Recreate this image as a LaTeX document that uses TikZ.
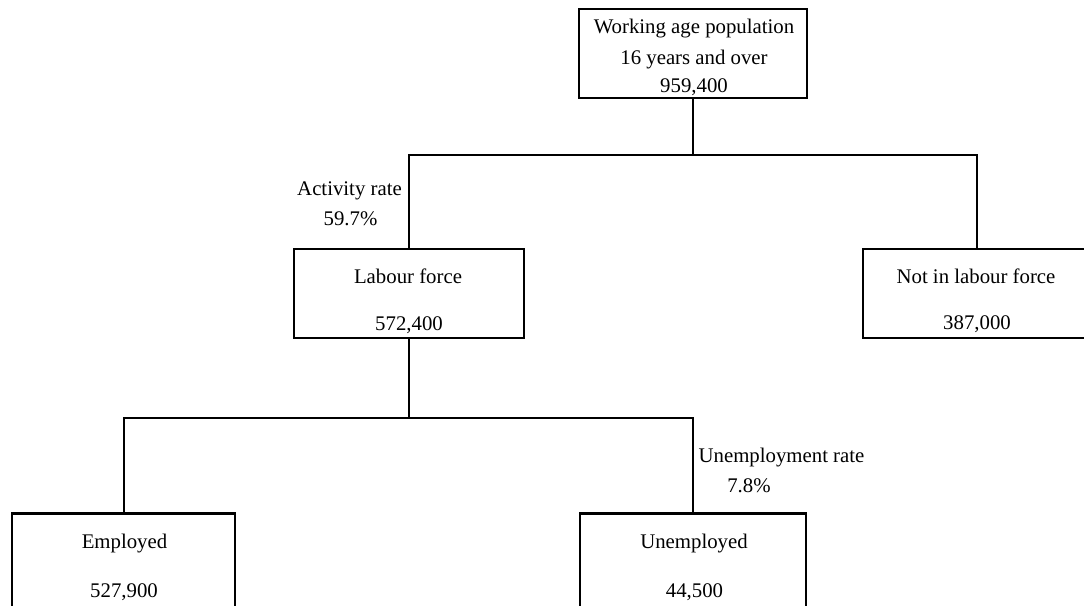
\documentclass[tikz,border=0pt]{standalone}
\usepackage{fontspec}
\setmainfont{Liberation Serif}
\begin{document}
\begin{tikzpicture}[x=1pt,y=-1pt,
  box/.style={draw=black,line width=2.5pt,rectangle,inner sep=0pt,minimum width=#1,minimum height=89pt},
  bigbox/.style={draw=black,line width=2.5pt,rectangle,inner sep=0pt,minimum width=#1,minimum height=120pt},
  txt/.style={inner sep=0pt,anchor=base,font=\fontsize{20.8}{25}\selectfont},
  conn/.style={draw=black,line width=2.5pt}]
\useasboundingbox (0,0) rectangle (1084,605);
\clip (0,0) rectangle (1084,605);
% boxes
\node[box=228pt] (top) at (693,53.5) {};
\node[box=230pt] (lab) at (409,293.5) {};
\node[box=228pt] (not) at (977,293.5) {};
\node[bigbox=223pt,anchor=north] (emp) at (123.5,512) {};
\node[bigbox=226pt,anchor=north] (unemp) at (693,512) {};
% texts
\node[txt] (t1) at (694,33) {Working age population};
\node[txt] (t2) at (694,64) {16 years and over};
\node[txt] (t3) at (694,92) {959,400};
\node[txt] (l1) at (408,283) {Labour force};
\node[txt] (l2) at (409,330) {572,400};
\node[txt] (n1) at (976,283) {Not in labour force};
\node[txt] (n2) at (977,329) {387,000};
\node[txt] (e1) at (124.5,548) {Employed};
\node[txt] (e2) at (124,597) {527,900};
\node[txt] (u1) at (694,548) {Unemployed};
\node[txt] (u2) at (694.5,597) {44,500};
\node[txt] (ar1) at (349.5,195) {Activity rate};
\node[txt] (ar2) at (350.5,225) {59.7\%};
\node[txt] (ur1) at (781.5,462) {Unemployment rate};
\node[txt] (ur2) at (749,492) {7.8\%};
% connectors
\coordinate (jL) at (409,155);
\coordinate (jR) at (977,155);
\coordinate (kL) at (124,418);
\coordinate (kR) at (693,418);
\draw[conn] (top.south) -- (top.south |- jL);
\draw[conn] (lab.north) -- (jL) -- (jR) -- (not.north);
\draw[conn] (lab.south) -- (lab.south |- kL);
\draw[conn] (emp.north -| kL) -- (kL) -- (kR) -- (unemp.north);
\end{tikzpicture}
\end{document}
